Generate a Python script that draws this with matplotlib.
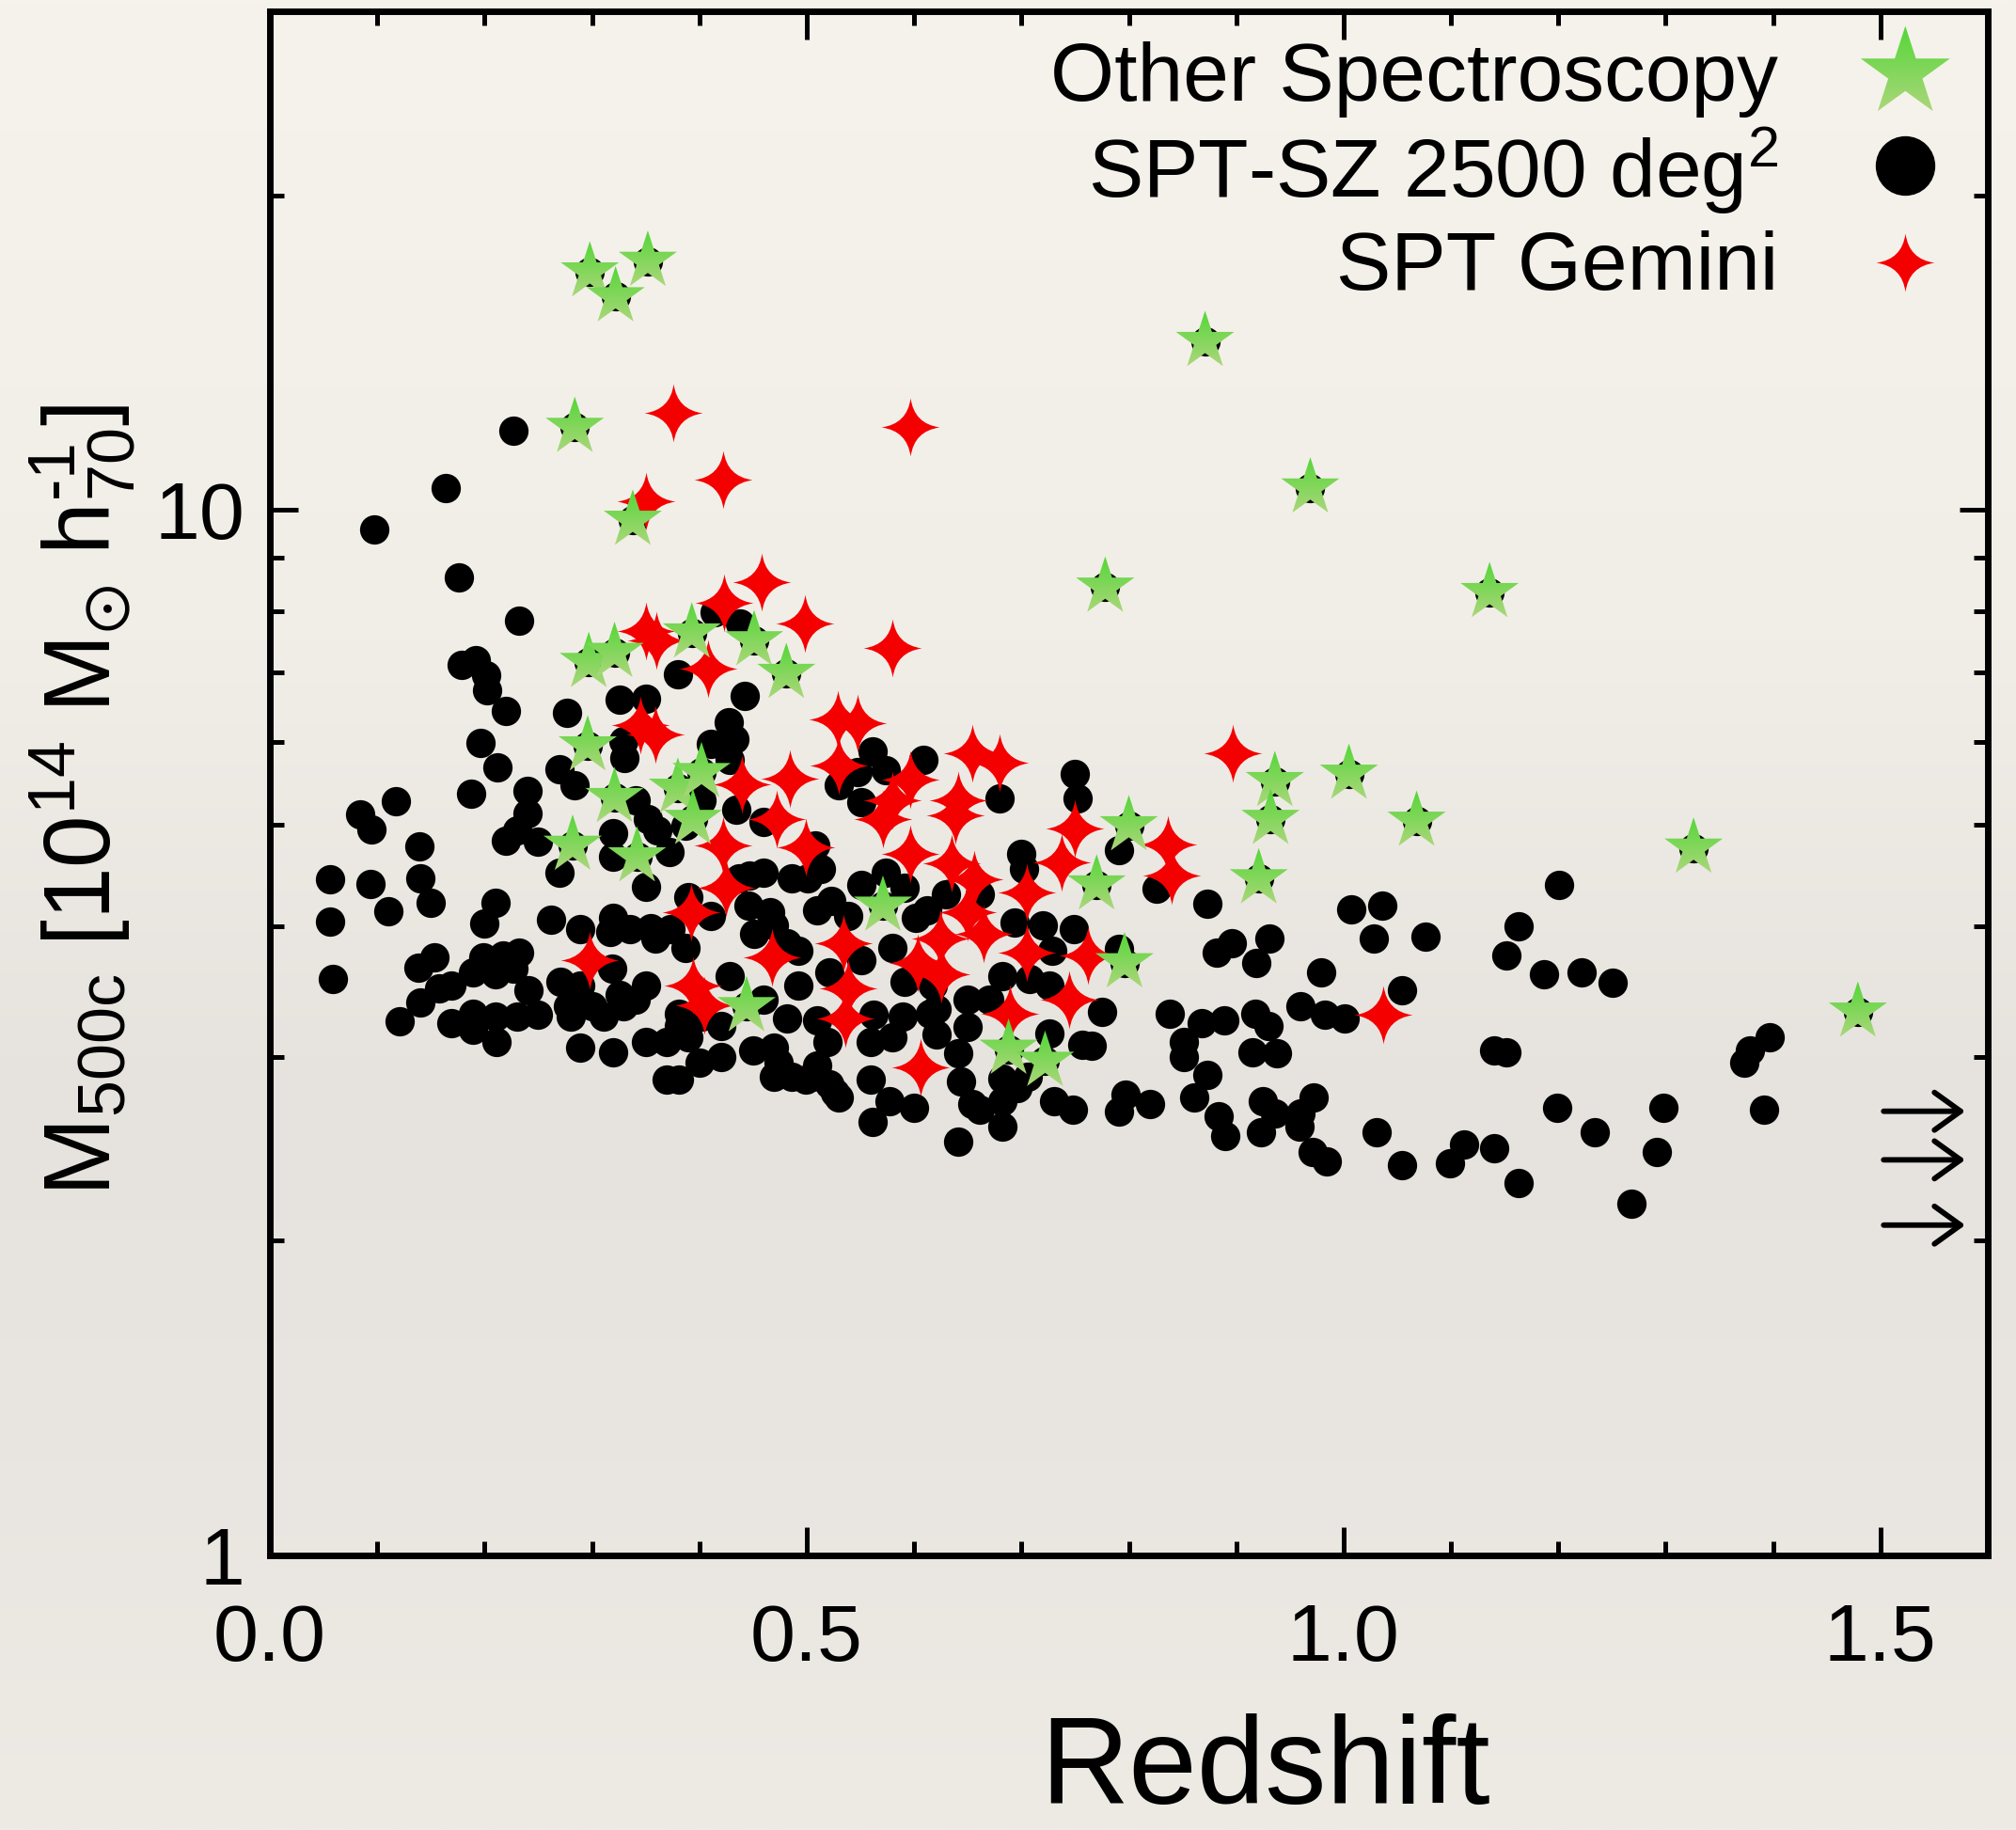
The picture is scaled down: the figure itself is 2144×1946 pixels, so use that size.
import numpy as np
import matplotlib
matplotlib.use("Agg")
import matplotlib.pyplot as plt
from matplotlib.path import Path
from matplotlib.patches import Polygon
from matplotlib.ticker import (MultipleLocator, FixedLocator, FixedFormatter,
                               LogLocator, NullFormatter, FormatStrFormatter)

plt.rcParams['font.family'] = ['Liberation Sans', 'DejaVu Sans']
plt.rcParams['mathtext.fontset'] = 'custom'
plt.rcParams['mathtext.rm'] = 'Liberation Sans'
plt.rcParams['mathtext.it'] = 'Liberation Sans'
plt.rcParams['mathtext.fallback'] = 'stixsans'

# --- data: (redshift, M500c [1e14 Msun/h70]) ---
spt_sz = [
    (0.227, 11.9), (0.164, 10.5), (0.097, 9.58), (0.176, 8.63), (0.232, 7.83),
    (0.179, 7.11), (0.192, 7.18), (0.201, 6.95), (0.202, 6.73), (0.220, 6.42),
    (0.277, 6.40), (0.326, 6.59), (0.350, 6.60), (0.380, 6.96), (0.442, 6.64),
    (0.414, 7.98), (0.438, 7.79), (0.427, 6.27),
    (0.196, 5.99), (0.212, 5.67), (0.187, 5.35), (0.117, 5.27), (0.084, 5.12),
    (0.095, 4.95), (0.139, 4.77), (0.056, 4.43), (0.094, 4.39), (0.140, 4.44),
    (0.150, 4.21), (0.110, 4.13), (0.056, 4.04), (0.059, 3.56), (0.210, 4.21),
    (0.200, 4.02), (0.262, 4.06), (0.240, 5.39), (0.240, 5.13), (0.220, 4.83),
    (0.230, 4.94), (0.250, 4.82), (0.270, 5.65), (0.284, 5.45), (0.270, 4.50),
    (0.330, 5.79), (0.329, 6.01), (0.320, 4.91), (0.320, 4.66), (0.341, 5.28),
    (0.352, 5.06), (0.361, 4.94), (0.372, 4.71), (0.350, 4.36), (0.411, 5.97),
    (0.433, 6.04), (0.428, 5.77), (0.434, 5.17), (0.402, 5.28), (0.387, 4.99),
    (0.460, 4.50), (0.447, 4.47), (0.486, 4.44), (0.460, 5.03), (0.390, 4.26),
    (0.411, 4.09), (0.446, 4.18), (0.466, 4.12), (0.451, 3.93), (0.469, 4.01),
    (0.359, 3.89), (0.387, 3.81), (0.289, 3.97), (0.320, 4.07), (0.335, 3.97),
    (0.317, 3.95), (0.153, 3.73), (0.138, 3.65), (0.158, 3.49), (0.169, 3.51),
    (0.140, 3.38), (0.121, 3.24), (0.199, 3.73), (0.217, 3.75), (0.232, 3.77),
    (0.189, 3.61), (0.210, 3.60), (0.227, 3.64), (0.241, 3.47), (0.169, 3.23),
    (0.189, 3.30), (0.210, 3.28), (0.189, 3.18), (0.211, 3.10), (0.230, 3.28),
    (0.250, 3.29), (0.271, 3.54), (0.289, 3.51), (0.278, 3.35), (0.280, 3.28),
    (0.300, 3.35), (0.319, 3.64), (0.326, 3.44), (0.350, 3.51), (0.341, 3.40),
    (0.311, 3.28), (0.329, 3.35), (0.289, 3.06), (0.320, 3.03), (0.350, 3.10),
    (0.370, 3.10), (0.381, 3.21), (0.381, 3.30), (0.390, 3.13), (0.400, 2.96),
    (0.370, 2.85), (0.381, 2.85), (0.420, 3.00), (0.420, 3.21), (0.450, 3.04),
    (0.469, 3.06), (0.469, 2.87), (0.486, 2.87), (0.482, 3.26), (0.460, 3.40),
    (0.428, 3.58), (0.402, 3.28), (0.482, 3.85), (0.437, 4.44), (0.355, 3.98),
    (0.373, 3.97),
    (0.561, 5.88), (0.609, 5.77), (0.530, 5.45), (0.551, 5.26), (0.574, 5.64),
    (0.680, 5.30), (0.750, 5.59), (0.752, 5.30), (0.700, 4.69), (0.702, 4.54),
    (0.791, 4.73), (0.826, 4.34), (0.873, 4.20), (0.508, 4.78), (0.501, 4.44),
    (0.513, 4.54), (0.551, 4.38), (0.574, 4.50), (0.591, 4.35), (0.630, 4.29),
    (0.661, 4.29), (0.510, 4.14), (0.523, 4.23), (0.539, 4.09), (0.602, 4.07),
    (0.612, 4.14), (0.694, 4.03), (0.720, 4.01), (0.749, 3.97), (0.729, 3.79),
    (0.791, 3.80), (0.580, 3.81), (0.492, 3.79), (0.551, 3.71), (0.492, 3.51),
    (0.521, 3.61), (0.591, 3.54), (0.617, 3.51), (0.621, 3.33), (0.650, 3.40),
    (0.670, 3.40), (0.682, 3.58), (0.708, 3.56), (0.726, 3.51), (0.775, 3.31),
    (0.650, 3.20), (0.726, 3.16), (0.757, 3.08), (0.765, 3.07), (0.510, 3.25),
    (0.562, 3.29), (0.589, 3.28), (0.615, 3.30), (0.519, 3.10), (0.560, 3.10),
    (0.580, 3.13), (0.621, 3.15), (0.641, 3.02), (0.510, 2.94), (0.530, 2.74),
    (0.560, 2.85), (0.577, 2.72), (0.600, 2.68), (0.561, 2.60), (0.641, 2.49),
    (0.644, 2.84), (0.661, 2.67), (0.682, 2.57), (0.696, 2.80), (0.682, 2.72),
    (0.730, 2.72), (0.748, 2.67), (0.797, 2.76), (0.791, 2.66), (0.820, 2.70),
    (0.838, 3.30), (0.851, 3.10), (0.851, 3.00), (0.873, 2.88), (0.861, 2.74),
    (0.884, 2.63), (0.890, 2.52), (0.923, 2.54), (0.925, 2.72), (0.936, 2.65),
    (0.868, 3.23), (0.889, 3.25), (0.918, 3.30), (0.930, 3.21), (0.915, 3.03),
    (0.938, 3.02), (0.931, 3.89), (0.896, 3.85), (0.882, 3.77), (0.919, 3.69),
    (0.499, 2.85), (0.521, 2.82), (0.547, 5.62),
    (0.474, 2.96), (0.505, 2.87), (0.526, 2.77), (0.654, 2.70), (0.706, 2.87),
    (0.682, 2.86),
    (1.201, 4.38), (1.007, 4.15), (1.036, 4.18), (1.028, 3.89), (1.076, 3.91),
    (1.163, 4.00), (1.152, 3.75), (1.187, 3.60), (1.222, 3.61), (1.251, 3.53),
    (0.979, 3.61), (1.054, 3.47), (0.960, 3.35), (0.983, 3.29), (1.001, 3.26),
    (1.140, 3.04), (1.152, 3.03), (1.378, 3.04), (1.373, 2.96), (0.972, 2.74),
    (0.960, 2.65), (0.959, 2.57), (0.971, 2.43), (0.984, 2.38), (1.031, 2.54),
    (1.054, 2.36), (1.112, 2.47), (1.099, 2.37), (1.140, 2.45), (1.163, 2.27),
    (1.199, 2.68), (1.234, 2.54), (1.298, 2.68), (1.292, 2.43), (1.268, 2.17),
    (1.397, 3.13), (1.392, 2.67),
]

spt_gemini = [
    (0.376, 12.4), (0.596, 12.0), (0.422, 10.7), (0.350, 10.2), (0.458, 8.53),
    (0.423, 8.15), (0.498, 7.79), (0.580, 7.38), (0.350, 7.66), (0.360, 7.51),
    (0.408, 7.05), (0.345, 6.23), (0.359, 6.10), (0.529, 6.31), (0.547, 6.25),
    (0.530, 5.70), (0.440, 5.47), (0.484, 5.53), (0.596, 5.52), (0.580, 5.28),
    (0.571, 5.06), (0.654, 5.85), (0.680, 5.73), (0.641, 5.28), (0.638, 5.11),
    (0.472, 5.06), (0.422, 4.78), (0.499, 4.76), (0.596, 4.69), (0.635, 4.59),
    (0.656, 4.43), (0.705, 4.31), (0.425, 4.35), (0.392, 4.12), (0.750, 4.96),
    (0.737, 4.60), (0.836, 4.79), (0.840, 4.47), (0.897, 5.85), (0.650, 4.12),
    (0.665, 3.93), (0.624, 3.89), (0.534, 3.85), (0.603, 3.69), (0.625, 3.60),
    (0.468, 3.73), (0.298, 3.71), (0.539, 3.49), (0.394, 3.51), (0.405, 3.36),
    (0.536, 3.26), (0.705, 3.77), (0.762, 3.75), (0.744, 3.40), (0.689, 3.30),
    (0.606, 2.93), (1.037, 3.29),
]

other_spec = [
    (0.298, 16.9), (0.352, 17.3), (0.322, 16.0), (0.871, 14.5), (0.284, 12.0),
    (0.969, 10.5), (0.338, 9.78), (0.778, 8.44), (1.136, 8.34), (0.297, 7.15),
    (0.321, 7.31), (0.393, 7.63), (0.451, 7.50), (0.481, 6.98), (0.296, 5.95),
    (0.321, 5.31), (0.282, 4.78), (0.342, 4.66), (0.380, 5.42), (0.402, 5.61),
    (0.394, 5.06), (0.444, 3.35), (0.571, 4.18), (0.800, 4.99), (0.770, 4.38),
    (0.796, 3.69), (0.688, 3.05), (0.722, 2.97), (0.936, 5.50), (0.932, 5.06),
    (0.921, 4.44), (1.005, 5.59), (1.068, 5.04), (1.326, 4.75), (1.479, 3.31),
]

# clusters beyond the plotted redshift range, shown as arrows
arrow_m = [2.66, 2.39, 2.07]
arrow_z = (1.503, 1.579)

legend_labels = ['Other Spectroscopy', 'SPT-SZ 2500 deg$^2$', 'SPT Gemini']

spt_z, spt_m = np.array(spt_sz).T
gem_z, gem_m = np.array(spt_gemini).T
oth_z, oth_m = np.array(other_spec).T

W, H = 2144, 1946
fig = plt.figure(figsize=(W / 100, H / 100), dpi=100)

# paper-like background, light at top, greyer lower down
bg = fig.add_axes([0, 0, 1, 1], zorder=-10)
stops = np.array([0.0, 0.35, 0.6, 0.8, 1.0])
cols = np.array([[246, 243, 236], [241, 238, 232], [230, 227, 222],
                 [233, 230, 225], [238, 235, 229]]) / 255.0
yy = np.linspace(0, 1, 400)
grad = np.stack([np.interp(yy, stops, cols[:, i]) for i in range(3)], axis=-1)
bg.imshow(grad[:, None, :], aspect='auto', extent=[0, 1, 0, 1], interpolation='bilinear')
bg.axis('off')

ax = fig.add_axes([287 / W, 1 - 1654 / H, 1827 / W, 1642 / H])
ax.set_facecolor('none')
ax.set_yscale('log')
ax.set_xlim(0, 1.6)
ax.set_ylim(1, 30)

ax.xaxis.set_major_locator(MultipleLocator(0.5))
ax.xaxis.set_minor_locator(MultipleLocator(0.1))
ax.xaxis.set_major_formatter(FormatStrFormatter('%.1f'))
ax.yaxis.set_major_locator(FixedLocator([1, 10]))
ax.yaxis.set_major_formatter(FixedFormatter(['1', '10']))
ax.yaxis.set_minor_locator(LogLocator(base=10, subs=np.arange(2, 10)))
ax.yaxis.set_minor_formatter(NullFormatter())
ax.tick_params(which='both', direction='in', top=True, right=True, width=3.6)
ax.tick_params(which='major', length=21.6, labelsize=62)
ax.tick_params(which='minor', length=10.8)
ax.tick_params(axis='x', which='major', pad=36)
ax.tick_params(axis='y', which='major', pad=19)
for sp in ax.spines.values():
    sp.set_linewidth(5)

# four-pointed marker for the Gemini sample
d = 0.12
diamond = Path([(0, 1), (d, d), (1, 0), (d, -d), (0, -1), (-d, -d), (-1, 0), (-d, d), (0, 1), (0, 1)],
               [Path.MOVETO] + [Path.CURVE3] * 8 + [Path.CLOSEPOLY])
red = '#f50000'
dot_size = 22.5 ** 2

ax.scatter(spt_z, spt_m, s=dot_size, c='black', linewidths=0, zorder=2)
ax.scatter(oth_z, oth_m, s=dot_size, c='black', linewidths=0, zorder=2)
ax.scatter(gem_z, gem_m, s=44.6 ** 2, c=red, marker=diamond, linewidths=0, zorder=3)

for m in arrow_m:
    ax.annotate('', xy=(arrow_z[1], m), xytext=(arrow_z[0], m),
                arrowprops=dict(arrowstyle='->,head_length=2.0,head_width=1.44',
                                lw=4.2, color='black', shrinkA=0, shrinkB=0,
                                mutation_scale=10))

# legend drawn by hand: text right-aligned, symbols to the right
txt_x, mark_x = 0.878, 0.952
txt_y = [0.9421, 0.8794, 0.8197]
mark_y = [0.960, 0.9001, 0.8374]
for lab, ty in zip(legend_labels, txt_y):
    ax.text(txt_x, ty, lab, transform=ax.transAxes, ha='right', va='baseline', fontsize=63)
ax.plot([mark_x], [mark_y[1]], 'o', ms=44.6, color='black', transform=ax.transAxes, clip_on=False)
ax.plot([mark_x], [mark_y[2]], marker=diamond, ms=44.6, color=red, mew=0,
        transform=ax.transAxes, clip_on=False)

fig.text(117 / W, 1 - 851 / H,
         r'$\mathregular{M_{500c}\ [10^{14}\ M_{\odot}\ h_{70}^{\text{-}1}]}$',
         rotation=90, rotation_mode='anchor', ha='center', va='baseline', fontsize=72)
fig.text(1346 / W, 1 - 1918 / H, 'Redshift', ha='center', va='baseline', fontsize=94)

# green stars with a vertical gradient, drawn in pixel space on top
ov = fig.add_axes([0, 0, 1, 1], zorder=5)
ov.patch.set_alpha(0)
ov.axis('off')
top_c = np.array([0.33, 0.84, 0.22])
bot_c = np.array([0.67, 0.84, 0.48])
tt = np.linspace(0, 1, 64)[:, None]
star_grad = (bot_c * (1 - tt) + top_c * tt)[:, None, :]


def gradient_star(cx, cy, R):
    ang = np.pi / 2 + np.arange(10) * np.pi / 5
    rad = np.where(np.arange(10) % 2 == 0, R, R * 0.382)
    verts = np.column_stack([cx + rad * np.cos(ang), cy + rad * np.sin(ang)])
    poly = Polygon(verts, closed=True, fc='none', ec='none')
    ov.add_patch(poly)
    im = ov.imshow(star_grad, extent=[cx - R, cx + R, cy - 0.81 * R, cy + R],
                   origin='lower', aspect='auto', interpolation='bilinear')
    im.set_clip_path(poly)


for px, py in ax.transData.transform(np.column_stack([oth_z, oth_m])):
    gradient_star(px, py, 32.6)
lx, ly = ax.transAxes.transform((mark_x, mark_y[0]))
gradient_star(lx, ly, 50)
ov.set_xlim(0, W)
ov.set_ylim(0, H)

fig.savefig('out.png', dpi=100)
